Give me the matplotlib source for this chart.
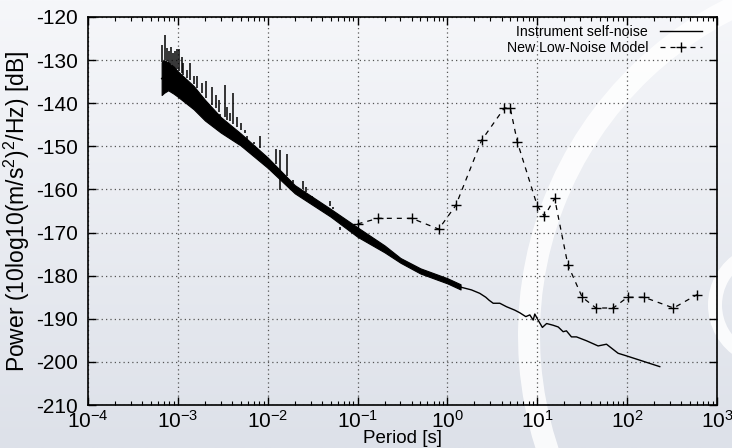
import numpy as np
import matplotlib
matplotlib.use("Agg")
import matplotlib.pyplot as plt
from matplotlib.patches import Wedge
from matplotlib.ticker import LogLocator, NullFormatter, FixedLocator

plt.rcParams['font.family'] = ['Liberation Sans', 'DejaVu Sans']
plt.rcParams['mathtext.fontset'] = 'custom'
plt.rcParams['mathtext.rm'] = 'Liberation Sans'
plt.rcParams['mathtext.it'] = 'Liberation Sans:italic'
plt.rcParams['axes.unicode_minus'] = False

# ---------------- data ----------------
# New Low-Noise Model (Peterson)
nlnm_period = [0.1, 0.17, 0.4, 0.8, 1.24, 2.4, 4.3, 5.0, 6.0, 10.0, 12.0, 15.6,
               21.9, 31.6, 45.0, 70.0, 101.0, 154.0, 328.0, 600.0]
nlnm_db = [-168.0, -166.7, -166.7, -169.2, -163.7, -148.6, -141.1, -141.1, -149.0,
           -163.8, -166.2, -162.1, -177.5, -185.0, -187.5, -187.5, -185.0, -185.0,
           -187.5, -184.4]

# Instrument self-noise: dense band (upper/lower envelope)
band_period = [6.6e-4, 7.0e-4, 7.8e-4, 9.0e-4, 1e-3, 1.5e-3, 2e-3, 3e-3, 5e-3, 1e-2,
               2e-2, 5e-2, 0.1, 0.2, 0.3, 0.5, 1.0, 1.4]
band_upper = [-130.5, -130.0, -130.5, -131.5, -132.6, -136.0, -139.2, -143.2, -147.0,
              -152.6, -159.0, -164.5, -168.8, -173.0, -175.9, -178.3, -180.6, -182.0]
band_lower = [-138.1, -137.6, -137.0, -137.8, -138.5, -141.4, -144.0, -146.8, -149.8,
              -155.0, -160.9, -166.3, -171.0, -174.6, -177.0, -179.5, -181.8, -183.2]

# Instrument self-noise: long-period line
line_period = [1.37, 1.85, 2.29, 2.67, 2.91, 3.23, 3.83, 4.54, 5.62, 6.38, 7.45, 8.26,
               9.0, 9.38, 10.2, 11.4, 12.7, 15.0, 17.1, 19.4, 21.1, 24.0, 27.3, 35.3,
               47.5, 58.9, 79.3, 98.2, 230.7]
line_db = [-182.6, -183.3, -184.1, -185.0, -185.7, -186.4, -186.4, -187.2, -188.0,
           -188.6, -189.5, -189.1, -190.3, -188.9, -190.3, -192.0, -191.1, -191.5,
           -191.9, -193.0, -192.8, -194.2, -194.2, -195.1, -196.3, -195.9, -198.0,
           -198.6, -201.1]

# Instrument self-noise: spectral spikes (period, base, top)
spike_period = [6.7e-4, 7.2e-4, 7.6e-4, 8.0e-4, 8.3e-4, 8.8e-4, 9.3e-4, 9.7e-4,
                1.04e-3, 1.1e-3, 1.15e-3, 1.25e-3, 1.36e-3, 1.51e-3, 1.64e-3, 1.85e-3,
                2.05e-3, 2.39e-3, 2.63e-3, 2.88e-3, 2.94e-3, 3.32e-3, 3.5e-3, 3.80e-3,
                4.13e-3, 4.51e-3, 5.0e-3, 5.54e-3, 5.85e-3, 7.03e-3, 8.26e-3, 9.6e-3,
                1.23e-2, 1.37e-2, 1.65e-2, 1.9e-2, 2.48e-2, 2.7e-2, 3.1e-2, 3.8e-2,
                4.92e-2, 5.3e-2, 6.3e-2]
spike_base = [-130.5, -130.0, -130.3, -130.8, -131.0, -131.3, -131.8, -132.1,
              -132.6, -133.1, -133.4, -134.1, -134.7, -135.6, -136.4, -137.7,
              -138.7, -140.3, -141.2, -142.1, -142.5, -143.2, -143.8, -144.2,
              -144.8, -145.5, -146.2, -147.0, -147.6, -149.0, -150.4, -152.2,
              -154.0, -160.1, -156.8, -158.4, -159.9, -160.5, -161.5, -162.8,
              -163.9, -164.6, -169.5]
spike_top = [-126.5, -124.2, -127.3, -128.0, -126.9, -128.4, -128.0, -127.5,
             -127.5, -129.2, -130.6, -132.3, -130.7, -133.7, -133.8, -135.4,
             -134.8, -136.3, -138.2, -139.3, -143.9, -135.8, -140.8, -142.2,
             -137.7, -143.1, -144.5, -146.2, -150.1, -149.5, -147.6, -154.0,
             -150.6, -150.9, -151.8, -157.8, -158.1, -159.4, -162.5, -162.8,
             -162.7, -164.0, -168.6]

x_ticks = [1e-4, 1e-3, 1e-2, 1e-1, 1e0, 1e1, 1e2, 1e3]
y_ticks = [-210, -200, -190, -180, -170, -160, -150, -140, -130, -120]
legend_labels = ["Instrument self-noise", "New Low-Noise Model"]
x_label = "Period [s]"
y_label = "Power (10log10(m/s$^2$)$^2$/Hz) [dB]"

# ---------------- figure ----------------
W, H = 732, 448
fig = plt.figure(figsize=(W / 100, H / 100), dpi=100)

# background gradient + decorative swoosh
bg = fig.add_axes([0, 0, 1, 1], zorder=-10)
bg.set_axis_off()
top = np.array([246, 247, 250]) / 255
bot = np.array([221, 225, 233]) / 255
t = np.linspace(0, 1, 256)[:, None]
grad = (top[None, :] * (1 - t) + bot[None, :] * t)[:, None, :]
grad = np.repeat(grad, 2, axis=1)
bg.imshow(grad, extent=[0, W, H, 0], aspect='auto', interpolation='bilinear')
bg.add_patch(Wedge((894, 335), 376, 150, 252, width=22, facecolor='white',
                   edgecolor='none', alpha=0.85))
bg.add_patch(Wedge((770, 305), 62, 120, 240, width=14, facecolor='white',
                   edgecolor='none', alpha=0.85))
bg.set_xlim(0, W)
bg.set_ylim(H, 0)

ax = fig.add_axes([88 / W, 1 - 405 / H, (717 - 88) / W, (405 - 17) / H])
ax.patch.set_alpha(0)

# self-noise
center = [(u + l) / 2 for u, l in zip(band_upper, band_lower)]
ax.fill_between(band_period, band_lower, band_upper, color='black', lw=0.8,
                edgecolor='black', zorder=3)
ax.vlines(spike_period, spike_base, spike_top, color='black', lw=1.1, zorder=3)
ax.plot(list(band_period) + line_period, center + line_db, color='black', lw=1.0,
        label=legend_labels[0], zorder=3)

# NLNM
ax.plot(nlnm_period, nlnm_db, color='black', lw=0.9, ls=(0, (4, 4)), marker='+',
        ms=6.5, mew=1.0, label=legend_labels[1], zorder=4)

ax.set_xscale('log')
ax.set_xlim(1e-4, 1e3)
ax.set_ylim(-210, -120)
ax.yaxis.set_major_locator(FixedLocator(y_ticks))
ax.xaxis.set_major_locator(FixedLocator(x_ticks))
ax.xaxis.set_minor_locator(LogLocator(base=10, subs=np.arange(2, 10), numticks=100))
ax.xaxis.set_minor_formatter(NullFormatter())

ax.grid(True, which='major', color='#555555', ls=(0, (1, 2.5)), lw=0.9)
ax.tick_params(which='major', direction='in', top=True, right=True, length=6,
               width=1, labelsize=15)
ax.tick_params(axis='y', which='major', pad=7)
ax.tick_params(axis='x', which='major', pad=3.5)
ax.tick_params(which='minor', direction='in', top=True, right=False, length=3, width=0.8)
ax.tick_params(axis='y', which='minor', left=False, right=False)
for s in ax.spines.values():
    s.set_linewidth(1.2)

ax.set_xlabel(x_label, fontsize=13.5, labelpad=-1.5)
ax.set_ylabel(y_label, fontsize=16.5, labelpad=3)

leg = ax.legend(loc='upper right', bbox_to_anchor=(702 / W, 1 - 25 / H),
                bbox_transform=fig.transFigure, frameon=False, markerfirst=False,
                fontsize=10.2, handlelength=3.0, handletextpad=0.8, labelspacing=0.15,
                borderaxespad=0.0, borderpad=0.0)

fig.savefig("out.png", dpi=100)
